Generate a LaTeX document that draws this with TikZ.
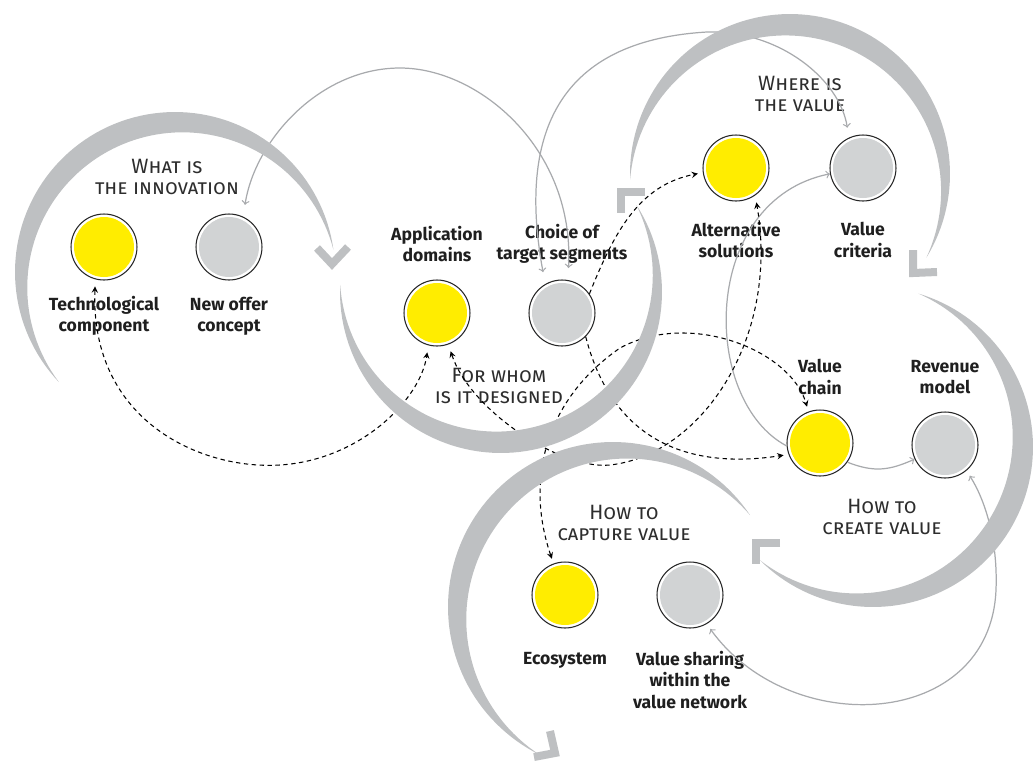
\documentclass[tikz,border=0pt]{standalone}
\usepackage{fontspec}
\setmainfont{Fira Sans}
\usetikzlibrary{arrows}
\definecolor{bandgrey}{RGB}{190,192,194}
\definecolor{linegrey}{RGB}{168,170,173}
\definecolor{spotyellow}{RGB}{255,237,0}
\definecolor{spotgrey}{RGB}{209,211,212}
\definecolor{headgrey}{RGB}{45,45,45}
\tikzstyle{yspot} = [circle, draw=black!85, line width=0.6pt, fill=white, minimum size=1.32cm, inner sep=0pt, path picture={\fill[spotyellow] (path picture bounding box.center) circle (0.6cm);}]
\tikzstyle{gspot} = [circle, draw=black!85, line width=0.6pt, fill=white, minimum size=1.32cm, inner sep=0pt, path picture={\fill[spotgrey] (path picture bounding box.center) circle (0.6cm);}]
\tikzstyle{lbl} = [align=center, inner sep=0pt, text=black!88, font={\fontsize{10}{12}\selectfont\bfseries}]
\tikzstyle{head} = [align=center, inner sep=0pt, text=headgrey, font={\fontsize{11.8}{12}\selectfont}]
\tikzstyle{greylink} = [draw=linegrey, line width=0.7pt, >=to]
\tikzstyle{dashlink} = [draw=black, line width=0.6pt, dash pattern=on 2.5pt off 2pt, >=stealth]
\tikzstyle{chev} = [draw=bandgrey, line width=0.16cm, line join=miter]
% tapered grey swirl: centre x, centre y, radius, start angle, end angle, width
\newcommand{\crescentband}[6]{%
  \fill[bandgrey] plot[domain=#4:#5, samples=90, variable=\t]
    ({#1+#3*cos(\t)}, {#2-#3*sin(\t)})
    -- plot[domain=#5:#4, samples=90, variable=\t]
    ({#1+(#3-#6*sin(180*((\t-(#4))/((#5)-(#4)))))*cos(\t)}, {#2-(#3-#6*sin(180*((\t-(#4))/((#5)-(#4)))))*sin(\t)})
    -- cycle;}

\begin{document}
\begin{tikzpicture}[x=0.02cm, y=-0.02cm]
    \useasboundingbox (0, 0) rectangle (1036, 762);

    % what is the innovation
    \node[head] (hwhat) at (167, 177) {\textsc{What is}\\\textsc{the innovation}};
    \node[yspot] (tech) at (104, 247) {};
    \node[gspot] (newoffer) at (229, 247) {};
    \node[lbl] (techlbl) at (104, 316) {Technological\\component};
    \node[lbl] (newofferlbl) at (229, 316) {New offer\\concept};

    % for whom is it designed
    \node[head] (hwhom) at (499, 386) {\textsc{For whom}\\\textsc{is it designed}};
    \node[yspot] (appdom) at (437, 313) {};
    \node[gspot] (choice) at (562, 313) {};
    \node[lbl] (appdomlbl) at (437, 244) {Application\\domains};
    \node[lbl] (choicelbl) at (562, 244) {Choice of\\target segments};

    % where is the value
    \node[head] (hwhere) at (800, 94) {\textsc{Where is}\\\textsc{the value}};
    \node[yspot] (altsol) at (736, 168) {};
    \node[gspot] (vcrit) at (863, 168) {};
    \node[lbl] (altsollbl) at (736, 240) {Alternative\\solutions};
    \node[lbl] (vcritlbl) at (863, 240) {Value\\criteria};

    % how to create value
    \node[head] (hcreate) at (882, 517) {\textsc{How to}\\\textsc{create value}};
    \node[yspot] (vchain) at (820, 443) {};
    \node[gspot] (revenue) at (945, 445) {};
    \node[lbl] (vchainlbl) at (820, 377) {Value\\chain};
    \node[lbl] (revenuelbl) at (945, 377) {Revenue\\model};

    % how to capture value
    \node[head] (hcapture) at (624, 523) {\textsc{How to}\\\textsc{capture value}};
    \node[yspot] (eco) at (565, 595) {};
    \node[gspot] (vshare) at (690, 595) {};
    \node[lbl] (ecolbl) at (565, 660) {Ecosystem};
    \node[lbl] (vsharelbl) at (690, 680) {Value sharing\\within the\\value network};

    % grey links
    \draw[greylink, <->, shorten <=0.24cm, shorten >=0.24cm] (newoffer.65) .. controls (255, 140) and (320, 68) .. (400, 68) .. controls (480, 68) and (575, 150) .. (choice.80);
    \draw[greylink, <->, shorten <=0.24cm, shorten >=0.2cm] (choice.120) .. controls (515, 120) and (570, 40) .. (707, 32) .. controls (780, 30) and (840, 80) .. (vcrit.115);
    \draw[greylink, ->] (vchain.185) .. controls (700, 400) and (700, 200) .. (vcrit.190);
    \draw[greylink, ->] (vchain.-35) .. controls (875, 473) and (890, 470) .. (revenue.205);
    \draw[greylink, <->, shorten <=0.12cm, shorten >=0.12cm] (vshare.-60) .. controls (790, 740) and (990, 730) .. (996, 590) .. controls (998, 540) and (985, 500) .. (revenue.-50);

    % dashed links
    \draw[dashlink, <->, shorten <=0.14cm, shorten >=0.14cm] (tech.-105) .. controls (90, 420) and (200, 470) .. (280, 465) .. controls (360, 460) and (420, 400) .. (appdom.-105);
    \draw[dashlink, <->, shorten <=0.14cm, shorten >=0.14cm] (appdom.-70) .. controls (470, 410) and (560, 470) .. (610, 465) .. controls (700, 455) and (780, 340) .. (altsol.-55);
    \draw[dashlink, ->, shorten >=0.1cm] (choice.35) .. controls (615, 230) and (640, 185) .. (altsol.188);
    \draw[dashlink, ->, shorten >=0.1cm] (choice.-45) .. controls (615, 450) and (700, 468) .. (vchain.200);
    \draw[dashlink, <->, shorten <=0.1cm, shorten >=0.1cm] (eco.110) .. controls (525, 480) and (545, 400) .. (620, 348) .. controls (690, 310) and (790, 350) .. (vchain.110);

    % swirls
    \crescentband{175}{272}{160}{223.5}{8}{22}
    \crescentband{501}{292}{161}{177.5}{392.8}{22}
    \crescentband{790}{174}{160}{182}{-31.5}{22}
    \crescentband{873}{447}{160}{73.5}{-135}{23}
    \crescentband{613}{607}{165}{33.8}{243.6}{23}

    % swirl heads
    \draw[chev] (317, 248) -- (332, 264) -- (348, 247);
    \draw[chev] (645, 192) -- (621, 192) -- (621, 213);
    \draw[chev] (913, 250) -- (913, 273) -- (937, 272);
    \draw[chev] (780, 543) -- (756, 543) -- (756, 564);
    \draw[chev] (550, 731) -- (555, 753) -- (534, 757);
\end{tikzpicture}
\end{document}
